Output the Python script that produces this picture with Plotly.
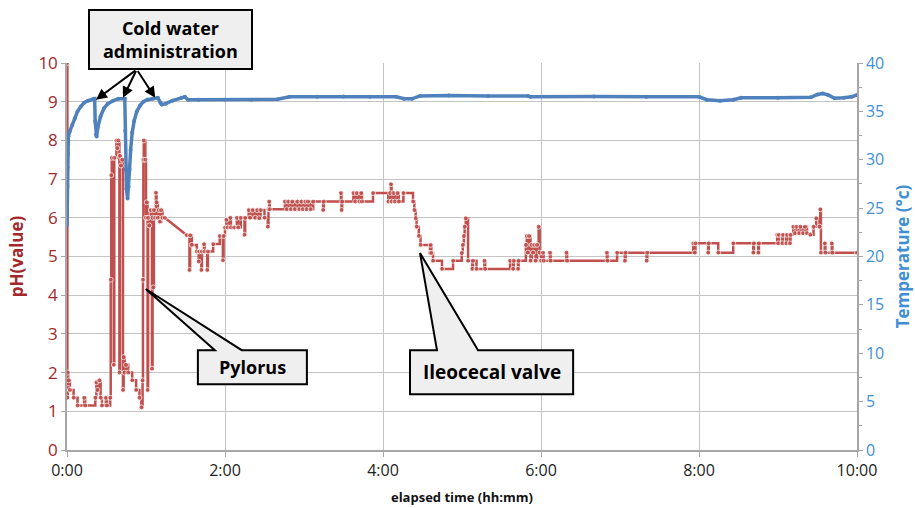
import plotly.graph_objects as go

# ---------------- data (elapsed minutes) ----------------
ph_time = [0, 0.3, 0.6, 0.9, 1.3, 2.2, 5, 8, 13, 13.8, 21.5, 22.3, 23.2, 24.5, 25.5, 26.5, 29.5, 30.3,
           32.8, 33.2, 33.6, 34.0, 35.5, 35.9, 37.5, 38.2, 39.0, 39.8, 40.2, 41.0, 42.0, 42.5, 43.0, 43.8,
           44.8, 46.5, 49.5, 52.5, 55.0, 56.5, 57.4, 57.7, 58.0, 58.3, 59.5, 60.0, 60.6, 61.2, 61.6, 62.5,
           63.6, 64.5, 65.0, 65.6, 66.0, 67.0, 67.5, 68.0, 69.0, 69.8, 70.5, 71.5, 72.5, 74.3,
           91.0, 93.0, 93.5, 94.8, 98.6, 100.0, 100.5, 102.0, 102.5, 104.0, 104.6, 106.5, 107.0, 111.0,
           116.0, 118.4, 118.9, 120.0, 121.0, 122.0, 124.0, 124.5, 127.0, 129.0, 130.0, 132.0, 134.8, 135.3,
           138.0, 139.0, 141.0, 143.0, 144.5, 146.0, 147.0, 150.0, 152.5, 153.0, 153.5, 154.0,
           165.5, 167, 168, 170, 171, 173, 175, 176.5, 178, 179, 181, 182, 183, 185, 187,
           194.5, 195, 208.0, 208.5, 209, 217.5, 219, 220, 222, 223.5, 224, 232.4,
           244, 245.5, 246, 246.5, 248, 249, 251, 252, 255.5, 262.8, 263.8, 264.8, 265.5, 267.2, 268.5,
           275.7, 276.2, 276.7, 278, 284.8, 293.2, 299.8, 300.6, 301.4, 302, 302.8, 304.6,
           307.8, 308.3, 311.0, 317.0, 317.6, 336.5, 338.8, 339.3, 342.5, 343.0,
           348.5, 349.2, 350, 351, 352, 353, 354, 355, 355.8, 357, 358.2, 359, 360, 361.5, 362,
           366.8, 367.3, 379.3, 379.8, 410, 410.5, 417.8, 423.7, 424.2, 440.2, 440.7,
           475.6, 476.8, 477.3, 486.9, 487.4, 494.6, 506, 521.2, 521.7, 525.0, 525.5,
           539.4, 540.2, 540.7, 543.3, 543.8, 546.3, 546.8, 549, 549.5, 551.6,
           553, 554, 556, 557, 559, 560.5, 562, 564.5, 567, 569, 571.5, 572.1, 572.6,
           575.5, 576.0, 580.8, 581.3, 600]
ph_value = [10.0, 1.35, 2.0, 1.6, 1.8, 1.55, 1.35, 1.15, 1.35, 1.15, 1.35, 1.75, 1.55, 1.8, 1.35, 1.15, 1.35, 1.15,
            1.35, 4.4, 7.1, 7.55, 2.2, 7.55, 8.0, 7.8, 8.0, 2.0, 7.6, 7.35, 7.5, 1.55, 2.4, 2.0,
            2.2, 2.0, 1.8, 1.55, 1.35, 1.1, 1.8, 4.4, 7.5, 8.0, 7.5, 6.0, 6.4, 1.55, 6.0, 5.8,
            6.2, 2.1, 6.0, 4.2, 6.2, 6.0, 6.65, 6.4, 6.0, 6.2, 5.9, 6.2, 6.0, 6.0,
            5.55, 4.65, 5.55, 5.3, 5.13, 4.87, 5.13, 4.65, 5.13, 5.32, 5.13, 4.65, 5.13, 5.32,
            5.53, 4.9, 5.53, 5.75, 5.95, 5.75, 6.0, 5.75, 5.75, 6.0, 5.75, 6.0, 5.56, 6.0,
            6.2, 6.0, 6.2, 6.0, 6.2, 5.99, 6.2, 6.0, 5.77, 6.22, 6.42, 6.22,
            6.42, 6.22, 6.42, 6.22, 6.42, 6.22, 6.42, 6.22, 6.42, 6.22, 6.42, 6.22, 6.42, 6.22, 6.42,
            6.2, 6.42, 6.64, 6.2, 6.42, 6.64, 6.42, 6.64, 6.42, 6.64, 6.42, 6.64,
            6.42, 6.64, 6.87, 6.42, 6.64, 6.42, 6.64, 6.42, 6.64, 6.42, 6.2, 5.99, 5.77, 5.53, 5.3,
            5.09, 5.3, 5.09, 4.89, 4.68, 4.89, 5.09, 5.3, 5.53, 5.77, 5.99, 4.89,
            4.68, 4.89, 4.68, 4.89, 4.68, 4.89, 4.68, 4.89, 4.68, 4.89,
            5.3, 5.53, 5.1, 5.53, 4.89, 5.3, 5.1, 5.3, 4.89, 5.3, 5.77, 5.1, 4.89, 5.1, 4.89,
            5.1, 4.89, 5.1, 4.89, 5.1, 4.89, 5.1, 4.89, 5.1, 4.89, 5.1,
            5.34, 5.1, 5.34, 5.1, 5.34, 5.1, 5.34, 5.1, 5.34, 5.1, 5.34,
            5.56, 5.34, 5.56, 5.34, 5.56, 5.34, 5.56, 5.34, 5.56, 5.77,
            5.6, 5.77, 5.6, 5.77, 5.6, 5.77, 5.6, 5.56, 5.77, 5.99, 5.77, 6.22, 5.1,
            5.34, 5.1, 5.34, 5.1, 5.1]
# samples joined by a straight segment (data gap) instead of a step
ph_gap_after = [74.3]

temp_time = [0, 0.15, 0.3, 0.45, 0.6, 0.8, 1.0, 2, 4, 6, 8, 10.5, 13, 16, 20, 21.0, 21.4, 22.0, 22.5,
             23.5, 25.5, 28, 31, 35, 39, 43.9, 44.2, 44.6, 45.2, 46.0, 46.8, 47.5, 48.3, 49.5, 51, 53,
             55.5, 58, 61, 65, 69, 71, 72, 75, 80, 87, 89.5, 92, 100, 120, 140, 160, 169, 190, 210,
             230, 250, 256, 262, 268, 290, 320, 350, 352, 400, 440, 480, 486, 496, 506, 512, 540,
             565, 570, 574, 578, 583, 590, 596, 600]
temp_value = [23.2, 24.4, 27.2, 29.2, 30.6, 31.6, 32.4, 32.9, 33.6, 34.3, 35.0, 35.5, 35.9, 36.1, 36.3,
              36.3, 34.0, 32.6, 32.4, 33.4, 34.5, 35.3, 35.8, 36.1, 36.3, 36.3, 33.0, 29.0, 27.0, 26.0,
              27.2, 29.0, 31.0, 32.8, 34.0, 35.0, 35.6, 36.0, 36.2, 36.3, 36.4, 35.9, 35.7, 35.8, 36.1,
              36.4, 36.5, 36.2, 36.2, 36.2, 36.2, 36.25, 36.5, 36.5, 36.55, 36.5, 36.5, 36.3, 36.3,
              36.6, 36.65, 36.6, 36.6, 36.5, 36.55, 36.5, 36.5, 36.2, 36.1, 36.2, 36.4, 36.4, 36.45,
              36.75, 36.85, 36.7, 36.35, 36.4, 36.5, 36.7]

x_tickvals = [0, 120, 240, 360, 480, 600]
x_ticktext = ["0:00", "2:00", "4:00", "6:00", "8:00", "10:00"]

# ---------------- build step line for pH ----------------
ph_x, ph_y, ph_size = [], [], []
for i in range(len(ph_time)):
    ph_x.append(ph_time[i]); ph_y.append(ph_value[i]); ph_size.append(5)
    if i < len(ph_time) - 1 and ph_time[i] not in ph_gap_after:
        ph_x.append(ph_time[i + 1]); ph_y.append(ph_value[i]); ph_size.append(0)

RED = "#C0504D"
BLUE = "#4F81BD"
RED_TXT = "#A3282B"
BLUE_TXT = "#3F8FD2"
FONT = "Open Sans"

fig = go.Figure()
fig.add_trace(go.Scatter(x=ph_x, y=ph_y, mode="lines+markers",
                         line=dict(color=RED, width=2.5),
                         marker=dict(color=RED, size=ph_size),
                         showlegend=False, yaxis="y"))
fig.add_trace(go.Scatter(x=temp_time, y=temp_value, mode="lines+markers",
                         line=dict(color=BLUE, width=3.5),
                         marker=dict(color=BLUE, size=4),
                         showlegend=False, yaxis="y2"))

grid = "#C4C4C4"
axis_line = "#A6A6A6"
fig.update_layout(
    width=915, height=508,
    margin=dict(l=67, r=58, t=63, b=58, autoexpand=False),
    plot_bgcolor="white", paper_bgcolor="white",
    font=dict(family=FONT),
    xaxis=dict(range=[0, 600], tickvals=x_tickvals, ticktext=x_ticktext, automargin=False,
               showgrid=True, gridcolor=grid, gridwidth=1, zeroline=False,
               showline=True, linecolor=axis_line, linewidth=1.5,
               ticks="outside", ticklen=5, tickcolor=axis_line,
               tickfont=dict(size=16, color="#222222", family=FONT),
               title=dict(text="<b>elapsed time (hh:mm)</b>", font=dict(size=13, color="#111111"), standoff=13)),
    yaxis=dict(range=[0, 10], dtick=1, automargin=False,
               showgrid=True, gridcolor=grid, gridwidth=1, zeroline=False,
               showline=True, linecolor=axis_line, linewidth=1.5,
               ticks="outside", ticklen=4, tickcolor=axis_line,
               tickfont=dict(size=17, color=RED_TXT, family=FONT),
               title=dict(text="<b>pH(value)</b>", font=dict(size=17, color=RED_TXT), standoff=10)),
    yaxis2=dict(range=[0, 40], dtick=5, overlaying="y", side="right", automargin=False,
                showgrid=False, zeroline=False,
                showline=True, linecolor=axis_line, linewidth=1.5,
                ticks="outside", ticklen=4, tickcolor=axis_line,
                minor=dict(dtick=2.5, ticks="outside", ticklen=3, tickcolor=axis_line),
                tickfont=dict(size=16, color=BLUE_TXT, family=FONT),
                title=dict(text="<b>Temperature (°c)</b>", font=dict(size=17, color=BLUE_TXT), standoff=14)),
)

BOX_FILL = "#EFEFEF"

# speech-bubble callouts (data coords)
def bubble(x0, x1, y0, y1, wx0, wx1, tipx, tipy):
    path = (f"M {x0},{y1} L {wx0},{y1} L {tipx},{tipy} L {wx1},{y1} L {x1},{y1} "
            f"L {x1},{y0} L {x0},{y0} Z")
    fig.add_shape(type="path", path=path, xref="x", yref="y",
                  fillcolor=BOX_FILL, line=dict(color="black", width=2), layer="above")

bubble(99.4, 182.2, 1.70, 2.58, 112.3, 132.7, 59.8, 4.16)
fig.add_annotation(x=140.8, y=2.14, xref="x", yref="y", text="<b>Pylorus</b>", showarrow=False,
                   xanchor="center", yanchor="middle",
                   font=dict(size=18, color="black", family=FONT))
bubble(260.5, 384.4, 1.44, 2.58, 281.0, 312.2, 268.1, 5.09)
fig.add_annotation(x=322.5, y=2.01, xref="x", yref="y", text="<b>Ileocecal valve</b>", showarrow=False,
                   xanchor="center", yanchor="middle",
                   font=dict(size=19, color="black", family=FONT))

# cold water box (above plot, pixel-derived paper coords)
def px2paper(px, py):
    return (px - 67) / 790.0, (450 - py) / 387.0

bx0, by0 = px2paper(89, 69)
bx1, by1 = px2paper(252, 10)
fig.add_shape(type="rect", xref="paper", yref="paper", x0=bx0, x1=bx1, y0=by0, y1=by1,
              fillcolor=BOX_FILL, line=dict(color="black", width=2), layer="above")
cx, cy = px2paper(170.5, 39.5)
fig.add_annotation(x=cx, y=cy, xref="paper", yref="paper", text="<b>Cold water<br>administration</b>",
                   showarrow=False, xanchor="center", yanchor="middle",
                   font=dict(size=18, color="black", family=FONT))
# arrows: tips in data coords (time, pH)
for tx, ty in [(22.0, 9.05), (42.5, 9.1), (67.0, 9.1)]:
    fig.add_annotation(x=tx, y=ty, xref="x", yref="y", text="", showarrow=True,
                       axref="pixel", ayref="pixel",
                       ax=(137 - (67.3 + tx / 0.7601)), ay=(70 - (449.6 - ty * 38.6)),
                       arrowhead=2, arrowsize=1.1, arrowwidth=2, arrowcolor="black")

fig.write_html("out.html")
